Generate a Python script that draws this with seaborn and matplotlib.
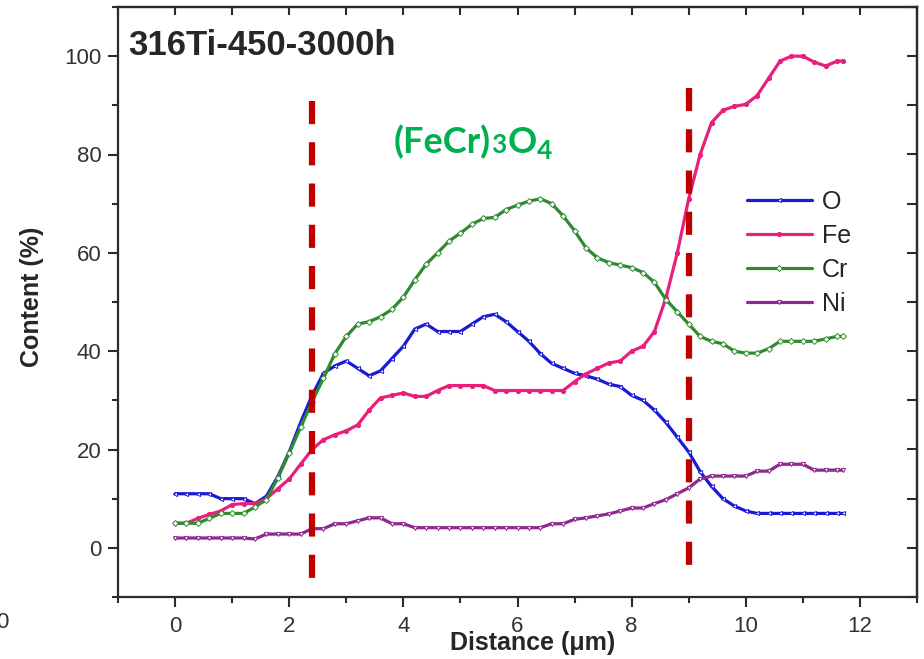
import numpy as np
import pandas as pd
import matplotlib
matplotlib.use('Agg')
import matplotlib.pyplot as plt
from matplotlib.ticker import MultipleLocator, NullFormatter
import seaborn as sns

# line-scan data (content in %)
distance = [0.0, 0.2, 0.4, 0.6, 0.8, 1.0, 1.2, 1.4, 1.6, 1.8,
            2.0, 2.2, 2.4, 2.6, 2.8, 3.0, 3.2, 3.4, 3.6, 3.8,
            4.0, 4.2, 4.4, 4.6, 4.8, 5.0, 5.2, 5.4, 5.6, 5.8,
            6.0, 6.2, 6.4, 6.6, 6.8, 7.0, 7.2, 7.4, 7.6, 7.8,
            8.0, 8.2, 8.4, 8.6, 8.8, 9.0, 9.2, 9.4, 9.6, 9.8,
            10.0, 10.2, 10.4, 10.6, 10.8, 11.0, 11.2, 11.4, 11.6, 11.7]
oxygen = [11, 11, 11, 11, 10, 10, 10, 9, 10.5, 14.5,
          19.5, 25.5, 31, 35.5, 37, 38, 36.5, 35, 36, 38.5,
          41, 44.5, 45.5, 44, 44, 44, 45.5, 47, 47.5, 46,
          44, 42, 39.5, 37.5, 36.5, 35.5, 35, 34.3, 33.3, 32.8,
          31, 30, 28, 25.5, 22.5, 19.5, 15.5, 12.5, 10, 8.5,
          7.5, 7, 7, 7, 7, 7, 7, 7, 7, 7]
iron = [5, 5, 6, 6.8, 7.5, 8.8, 9, 9, 10, 12,
        14, 17, 20, 22, 23, 23.8, 25, 28, 30.5, 31,
        31.5, 30.8, 30.8, 32, 33, 33, 33, 33, 32, 32,
        32, 32, 32, 32, 32, 33.8, 35.4, 36.5, 37.6, 38,
        40, 41, 44, 50.8, 60, 71, 80, 86.5, 89, 89.8,
        90.2, 92, 95.5, 99, 100, 100, 98.8, 98, 99, 99]
chromium = [5, 5, 5, 6, 7, 7, 7, 8.3, 9.8, 14.2,
            19.3, 24.5, 29.7, 34.5, 39.5, 43, 45.5, 46, 47, 48.5,
            51, 54.5, 57.7, 60, 62.4, 64, 65.8, 67, 67.2, 68.8,
            69.7, 70.5, 71, 70, 67.5, 64.5, 61, 59, 58, 57.5,
            57, 56, 54, 50.5, 48, 45.5, 43, 42, 41.5, 40,
            39.6, 39.6, 40.5, 42, 42, 42, 42, 42.5, 43, 43]
nickel = [2, 2, 2, 2, 2, 2, 2, 1.8, 2.8, 2.8,
          2.8, 2.8, 3.9, 3.9, 4.9, 4.9, 5.5, 6.1, 6.1, 4.9,
          4.9, 4.1, 4.1, 4.1, 4.1, 4.1, 4.1, 4.1, 4.1, 4.1,
          4.1, 4.1, 4.1, 4.9, 4.9, 5.8, 6.1, 6.5, 6.9, 7.5,
          8.1, 8.1, 9, 9.8, 11, 12.2, 14, 14.6, 14.6, 14.6,
          14.6, 15.6, 15.6, 17, 17, 17, 15.8, 15.8, 15.8, 15.8]

elements = ['O', 'Fe', 'Cr', 'Ni']
colors = {'O': '#1a1ad6', 'Fe': '#e8207c', 'Cr': '#2e8b2e', 'Ni': '#8e2a8e'}
markers = {'O': '<', 'Fe': 'o', 'Cr': 'D', 'Ni': 'v'}

# layer boundaries (red dashed lines)
boundary_x = [2.4, 9.0]
boundary_top = [90.9, 93.5]
boundary_bottom = [-7.1, -4.7]

df = pd.DataFrame({'Distance': distance, 'O': oxygen, 'Fe': iron,
                   'Cr': chromium, 'Ni': nickel})
df = df.melt(id_vars='Distance', var_name='Element', value_name='Content')

sns.set_style('ticks')
plt.rcParams['font.family'] = ['Liberation Sans', 'DejaVu Sans']

fig = plt.figure(figsize=(9.24, 6.59), dpi=100)
ax = fig.add_axes([118/924, 62/659, 799/924, 590/659])

for el in elements:
    sub = df[df['Element'] == el]
    sns.lineplot(data=sub, x='Distance', y='Content', ax=ax, color=colors[el],
                 marker=markers[el], markersize=3,
                 markerfacecolor=colors[el] if el == 'Fe' else 'white',
                 markeredgecolor=colors[el], markeredgewidth=0.7,
                 linewidth=2.3, label=el, errorbar=None)

for bx, top, bot in zip(boundary_x, boundary_top, boundary_bottom):
    ax.plot([bx, bx], [top, bot], color='#c00000', linewidth=4.5,
            dashes=(3.7, 2.9), solid_capstyle='butt', dash_capstyle='butt')

ax.set_xlim(-1, 13)
ax.set_ylim(-10, 110)
ax.set_xticks([0, 2, 4, 6, 8, 10, 12])
ax.set_yticks([0, 20, 40, 60, 80, 100])
ax.xaxis.set_minor_locator(MultipleLocator(1))
ax.yaxis.set_minor_locator(MultipleLocator(10))
ax.tick_params(which='major', direction='out', length=7, width=1.5,
               color='#2b2b2b', labelsize=16, labelcolor='#333333')
ax.tick_params(which='minor', direction='out', length=4, width=1.5, color='#2b2b2b')
ax.tick_params(axis='x', pad=7)
ax.tick_params(axis='y', pad=5)
for s in ax.spines.values():
    s.set_linewidth(1.6)
    s.set_color('#2b2b2b')

# mirrored inward ticks on top and right (Origin style)
top = ax.secondary_xaxis('top')
top.set_xticks([0, 2, 4, 6, 8, 10, 12])
top.xaxis.set_minor_locator(MultipleLocator(1))
top.xaxis.set_major_formatter(NullFormatter())
top.tick_params(which='both', direction='in', length=6, width=1.5, color='#2b2b2b')
right = ax.secondary_yaxis('right')
right.set_yticks([0, 20, 40, 60, 80, 100])
right.yaxis.set_minor_locator(MultipleLocator(10))
right.yaxis.set_major_formatter(NullFormatter())
right.tick_params(which='both', direction='in', length=7, width=1.5, color='#2b2b2b')
for sec in (top, right):
    for s in sec.spines.values():
        s.set_linewidth(1.6)
        s.set_color('#2b2b2b')

ax.set_xlabel('Distance (μm)', fontsize=18, fontweight='bold')
ax.xaxis.set_label_coords(0.519, -0.058)
ax.set_ylabel('Content (%)', fontsize=18, fontweight='bold')
ax.yaxis.label.set_va('center')
ax.yaxis.set_label_coords(-0.108, 0.508)

ax.text(0.0125, 0.919, '316Ti-450-3000h', transform=ax.transAxes,
        fontsize=25, fontweight='bold', va='baseline')

# (FeCr)3O4 label, built from pieces
green = '#00b050'
t = ax.text(0.345, 0.7525, '(FeCr)', transform=ax.transAxes, fontsize=26,
            fontweight='bold', color=green, family='Lato', va='baseline')
pieces = [('3', 19, 0), ('O', 26, 0), ('4', 19, -4)]
for txt, size, dy in pieces:
    t = ax.annotate(txt, xy=(1, 0.7525), xycoords=(t, 'axes fraction'),
                    xytext=(0.5, dy), textcoords='offset points',
                    fontsize=size, fontweight='bold', color=green,
                    family='Lato', va='baseline', ha='left')

ax.legend(loc='upper left', bbox_to_anchor=(0.787, 0.69), frameon=False,
          fontsize=18, handlelength=2.6, handletextpad=0.4,
          labelspacing=0.4, borderpad=0, borderaxespad=0)

# stray tick label from the neighbouring panel at the left edge
fig.text(-0.004, 1 - 622/659, '0', fontsize=16, color='#333333', va='center', ha='left')

fig.savefig('out.png', dpi=100)
